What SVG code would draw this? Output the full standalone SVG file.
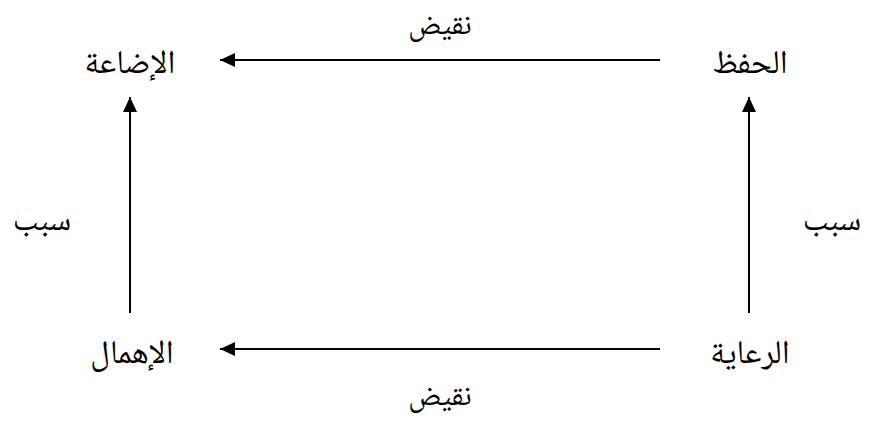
<svg xmlns="http://www.w3.org/2000/svg" width="870" height="427" viewBox="0 0 870 427">
<defs>
<marker id="ah" markerWidth="15" markerHeight="14" refX="15" refY="7" orient="auto" markerUnits="userSpaceOnUse">
<path d="M0,0 L15,7 L0,14 Z" fill="#000"/>
</marker>
<style>
text{font-family:"Noto Naskh Arabic","Noto Sans Arabic","DejaVu Sans",serif;font-size:33px;fill:#000;text-anchor:middle;direction:rtl}
text.s{font-size:30px}
.c{stroke:#000;stroke-width:2;fill:none}
</style>
</defs>
<rect width="870" height="427" fill="#fff"/>
<g id="connectors">
<line class="c" x1="660" y1="60" x2="220" y2="60" marker-end="url(#ah)"/>
<line class="c" x1="660" y1="349" x2="220" y2="349" marker-end="url(#ah)"/>
<line class="c" x1="130" y1="313" x2="130" y2="97" marker-end="url(#ah)"/>
<line class="c" x1="749" y1="313" x2="749" y2="97" marker-end="url(#ah)"/>
<text class="s" x="440" y="34">نقيض</text>
<text class="s" x="440" y="405">نقيض</text>
<text x="42" y="230">سبب</text>
<text x="832" y="230">سبب</text>
</g>
<g id="n-idaa"><text x="130" y="73">الإضاعة</text></g>
<g id="n-hifz"><text x="750" y="73">الحفظ</text></g>
<g id="n-riaya"><text x="750" y="363">الرعاية</text></g>
<g id="n-ihmal"><text x="132" y="363">الإهمال</text></g>
</svg>
